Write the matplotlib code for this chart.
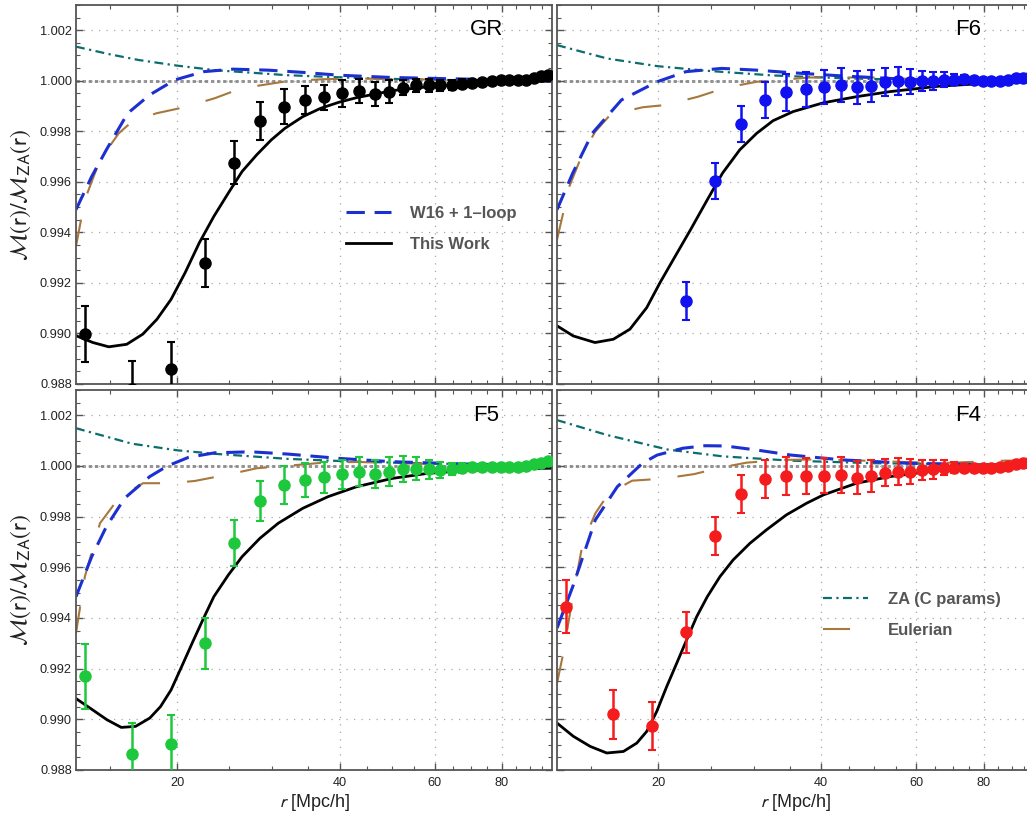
import matplotlib
matplotlib.use("Agg")
import matplotlib.pyplot as plt
import numpy as np
from matplotlib.ticker import FixedLocator, MultipleLocator, NullFormatter, FuncFormatter

plt.rcParams["font.family"] = ["Liberation Sans", "DejaVu Sans"]
plt.rcParams["mathtext.fontset"] = "stixsans"

# measured separations (same bins in every panel)
R_PTS = [13.5, 16.5, 19.5, 22.5, 25.5, 28.5, 31.5, 34.5, 37.5, 40.5, 43.5, 46.5, 49.5, 52.5,
         55.5, 58.5, 61.5, 64.5, 67.5, 70.5, 73.5, 76.5, 79.5, 82.5, 85.5, 88.5, 91.5, 94.5, 97.5]

GR_PTS = [0.98997, 0.98780, 0.98860, 0.99280, 0.99675, 0.99840, 0.99898, 0.99924, 0.99935, 0.99950,
          0.99960, 0.99948, 0.99957, 0.99973, 0.99982, 0.99982, 0.99983, 0.99985, 0.99988, 0.99992,
          0.99996, 1.00000, 1.00003, 1.00003, 1.00003, 1.00005, 1.00012, 1.00018, 1.00024]
GR_ERR = [0.00110, 0.00110, 0.00105, 0.00095, 0.00085, 0.00074, 0.00068, 0.00057, 0.00050, 0.00052,
          0.00047, 0.00048, 0.00046, 0.00030, 0.00025, 0.00025, 0.00022, 0.00020, 0.00018, 0.00015,
          0.00012, 0.00010, 0.00008, 0.00008, 0.00008, 0.00008, 0.00008, 0.00008, 0.00008]

F6_PTS = [np.nan, np.nan, np.nan, 0.99128, 0.99604, 0.99829, 0.99924, 0.99954, 0.99967, 0.99976,
          0.99983, 0.99974, 0.99979, 0.99995, 0.99999, 0.99996, 0.99999, 1.00000, 1.00005, 1.00005,
          1.00007, 1.00002, 1.00000, 1.00000, 0.99999, 1.00002, 1.00009, 1.00012, 1.00013]
F6_ERR = [0.0, 0.0, 0.0, 0.00075, 0.00071, 0.00072, 0.00072, 0.00074, 0.00069, 0.00068,
          0.00068, 0.00066, 0.00065, 0.00057, 0.00055, 0.00050, 0.00041, 0.00036, 0.00028, 0.00020,
          0.00015, 0.00012, 0.00010, 0.00008, 0.00008, 0.00008, 0.00008, 0.00008, 0.00008]

F5_PTS = [0.99169, 0.98864, 0.98903, 0.99300, 0.99695, 0.99863, 0.99925, 0.99945, 0.99955, 0.99968,
          0.99978, 0.99968, 0.99978, 0.99988, 0.99989, 0.99987, 0.99984, 0.99988, 0.99992, 0.99995,
          0.99995, 0.99995, 0.99995, 0.99995, 0.99997, 1.00000, 1.00007, 1.00013, 1.00018]
F5_ERR = [0.00130, 0.00120, 0.00115, 0.00100, 0.00090, 0.00079, 0.00074, 0.00066, 0.00062, 0.00057,
          0.00056, 0.00055, 0.00056, 0.00050, 0.00045, 0.00037, 0.00030, 0.00025, 0.00020, 0.00015,
          0.00012, 0.00010, 0.00008, 0.00008, 0.00008, 0.00008, 0.00008, 0.00008, 0.00008]

F4_PTS = [0.99445, 0.99020, 0.98972, 0.99344, 0.99724, 0.99889, 0.99950, 0.99961, 0.99961, 0.99961,
          0.99965, 0.99954, 0.99961, 0.99974, 0.99978, 0.99978, 0.99983, 0.99987, 0.99994, 0.99994,
          0.99994, 0.99991, 0.99991, 0.99994, 0.99995, 1.00000, 1.00008, 1.00013, 1.00016]
F4_ERR = [0.00105, 0.00096, 0.00095, 0.00081, 0.00074, 0.00074, 0.00075, 0.00074, 0.00070, 0.00069,
          0.00070, 0.00065, 0.00064, 0.00054, 0.00054, 0.00050, 0.00040, 0.00037, 0.00030, 0.00022,
          0.00015, 0.00012, 0.00010, 0.00008, 0.00008, 0.00008, 0.00008, 0.00008, 0.00008]

# "This Work" (black solid)
GR_THIS_R = [13.04, 13.97, 14.95, 16.14, 17.28, 18.36, 19.5, 20.7, 22.0, 23.4, 24.9, 26.4, 28.1, 29.9,
             31.7, 34.2, 36.9, 39.9, 43.0, 50.1, 58.3, 67.8, 79.0, 97.7, 99.0]
GR_THIS_Y = [0.98990, 0.98964, 0.98947, 0.98957, 0.98997, 0.99056, 0.99135, 0.99240, 0.99359, 0.99463,
             0.99556, 0.99641, 0.99707, 0.99766, 0.99812, 0.99858, 0.99891, 0.99915, 0.99933, 0.99961,
             0.99976, 0.99987, 0.99994, 0.99999, 1.00000]
F6_THIS_R = [13.0, 13.93, 15.28, 16.52, 17.73, 19.04, 20.15, 21.33, 22.95, 24.64, 26.3, 28.3, 30.4,
             32.6, 35.5, 40.4, 46.5, 53.6, 66.3, 96.1, 99.0]
F6_THIS_Y = [0.99030, 0.98990, 0.98964, 0.98977, 0.99017, 0.99102, 0.99201, 0.99293, 0.99411, 0.99529,
             0.99635, 0.99727, 0.99792, 0.99842, 0.99878, 0.99913, 0.99937, 0.99957, 0.99979, 0.99999,
             1.00000]
F5_THIS_R = [13.04, 13.96, 14.84, 15.77, 16.76, 17.81, 18.64, 19.5, 20.4, 21.4, 22.4, 23.4, 24.9, 26.4,
             28.5, 30.8, 34.2, 38.1, 43.0, 50.1, 58.3, 67.8, 79.0, 97.7, 99.0]
F5_THIS_Y = [0.99080, 0.99037, 0.98998, 0.98968, 0.98972, 0.99005, 0.99050, 0.99116, 0.99208, 0.99307,
             0.99399, 0.99484, 0.99570, 0.99642, 0.99715, 0.99774, 0.99833, 0.99879, 0.99918, 0.99951,
             0.99971, 0.99981, 0.99987, 0.99991, 0.99991]
F4_THIS_R = [13.0, 13.93, 14.97, 16.06, 17.24, 18.25, 19.04, 19.87, 20.73, 21.63, 22.57, 23.55, 24.64,
             26.0, 27.5, 29.55, 31.7, 34.5, 37.6, 40.4, 46.5, 53.6, 66.3, 96.1, 99.0]
F4_THIS_Y = [0.98985, 0.98933, 0.98893, 0.98867, 0.98873, 0.98906, 0.98952, 0.99031, 0.99129, 0.99221,
             0.99314, 0.99405, 0.99484, 0.99563, 0.99629, 0.99695, 0.99748, 0.99807, 0.99853, 0.99886,
             0.99932, 0.99958, 0.99984, 0.99995, 0.99995]

# "W16 + 1-loop" (blue dashed)
GR_W16_R = [13.0, 13.9, 14.8, 16.2, 17.8, 19.8, 22.4, 25.4, 29.5, 34.3, 39.9, 50.0, 67.5, 99.0]
GR_W16_Y = [0.99490, 0.99621, 0.99727, 0.99871, 0.99944, 1.00003, 1.00036, 1.00046, 1.00042, 1.00033,
            1.00022, 1.00013, 1.00007, 0.99999]
F6_W16_R = [13.0, 13.9, 15.1, 17.1, 19.9, 22.5, 26.2, 30.4, 35.2, 43.8, 57.5, 99.0]
F6_W16_Y = [0.99490, 0.99635, 0.99792, 0.99924, 0.99996, 1.00036, 1.00049, 1.00042, 1.00032, 1.00019,
            1.00006, 0.99999]
F5_W16_R = [13.0, 13.9, 14.8, 16.0, 17.8, 19.2, 21.0, 23.5, 27.4, 32.1, 39.9, 50.0, 67.5, 99.0]
F5_W16_Y = [0.99484, 0.99642, 0.99761, 0.99873, 0.99958, 1.00000, 1.00034, 1.00052, 1.00056, 1.00047,
            1.00030, 1.00017, 1.00008, 1.00000]
F4_W16_R = [13.0, 13.9, 15.3, 16.8, 18.7, 19.9, 22.2, 24.4, 26.6, 30.4, 35.2, 43.8, 57.5, 99.0]
F4_W16_Y = [0.99360, 0.99524, 0.99787, 0.99918, 1.00011, 1.00043, 1.00070, 1.00080, 1.00079, 1.00063,
            1.00043, 1.00024, 1.00011, 1.00001]

# "ZA (C params)" (teal dash-dot)
GR_ZA_R = [13.0, 15.0, 17.0, 20.0, 23.5, 32.0, 43.0, 58.0, 99.0]
GR_ZA_Y = [1.00135, 1.00105, 1.00082, 1.00060, 1.00042, 1.00022, 1.00011, 1.00004, 0.99998]
F6_ZA_R = [13.0, 16.1, 19.9, 24.4, 32.6, 43.8, 60.0, 99.0]
F6_ZA_Y = [1.00141, 1.00088, 1.00058, 1.00040, 1.00021, 1.00010, 1.00003, 0.99999]
F5_ZA_R = [13.0, 16.5, 20.0, 23.5, 32.1, 43.0, 58.0, 99.0]
F5_ZA_Y = [1.00149, 1.00088, 1.00062, 1.00048, 1.00028, 1.00017, 1.00010, 1.00003]
F4_ZA_R = [13.0, 16.1, 20.8, 26.3, 35.2, 49.9, 76.5, 99.0]
F4_ZA_Y = [1.00181, 1.00122, 1.00065, 1.00038, 1.00021, 1.00011, 1.00007, 1.00005]

# "Eulerian" (brown long dash)
GR_EUL_R = [13.0, 13.5, 14.4, 15.6, 16.5, 18.3, 20.6, 23.5, 26.3, 32.1, 37.3, 43.0, 58.0, 99.0]
GR_EUL_Y = [0.99345, 0.99529, 0.99687, 0.99792, 0.99838, 0.99871, 0.99895, 0.99931, 0.99970, 0.99999,
            1.00006, 1.00009, 1.00005, 0.99999]
F6_EUL_R = [13.0, 13.7, 14.5, 15.3, 16.3, 18.7, 20.6, 23.7, 26.6, 30.4, 38.2, 49.9, 66.0, 99.0]
F6_EUL_Y = [0.99372, 0.99582, 0.99713, 0.99799, 0.99865, 0.99895, 0.99904, 0.99937, 0.99972, 0.99996,
            1.00013, 1.00013, 1.00003, 1.00000]
F5_EUL_R = [13.0, 13.5, 14.4, 15.6, 17.3, 19.5, 21.6, 25.1, 28.1, 32.1, 37.3, 43.0, 58.0, 99.0]
F5_EUL_Y = [0.99340, 0.99563, 0.99774, 0.99873, 0.99932, 0.99932, 0.99941, 0.99968, 0.99991, 1.00001,
            1.00013, 1.00016, 1.00008, 1.00000]
F4_EUL_R = [13.0, 13.35, 13.9, 14.5, 15.3, 16.2, 17.9, 20.4, 23.3, 26.0, 29.1, 33.8, 40.2, 49.9, 66.0, 87.5, 99.0]
F4_EUL_Y = [0.99143, 0.99261, 0.99484, 0.99695, 0.99813, 0.99892, 0.99942, 0.99950, 0.99968, 0.99993,
            1.00013, 1.00024, 1.00026, 1.00020, 1.00011, 1.00021, 1.00022]

X_MAJOR = [20, 40, 60, 80]
X_MINOR = [15, 25, 30, 35, 45, 50, 55, 65, 70, 75, 85, 90, 95]

PANELS = [
    # name, rect, colour, points, errors, curves, left labels, bottom labels
    ("GR", [0.0740, 0.5283, 0.4635, 0.4656], "black", GR_PTS, GR_ERR,
     (GR_THIS_R, GR_THIS_Y, GR_W16_R, GR_W16_Y, GR_ZA_R, GR_ZA_Y, GR_EUL_R, GR_EUL_Y), True, False),
    ("F6", [0.5424, 0.5283, 0.4645, 0.4656], "#1010f0", F6_PTS, F6_ERR,
     (F6_THIS_R, F6_THIS_Y, F6_W16_R, F6_W16_Y, F6_ZA_R, F6_ZA_Y, F6_EUL_R, F6_EUL_Y), False, False),
    ("F5", [0.0740, 0.0541, 0.4635, 0.4668], "#1ec83c", F5_PTS, F5_ERR,
     (F5_THIS_R, F5_THIS_Y, F5_W16_R, F5_W16_Y, F5_ZA_R, F5_ZA_Y, F5_EUL_R, F5_EUL_Y), True, True),
    ("F4", [0.5424, 0.0541, 0.4645, 0.4668], "#f41c1c", F4_PTS, F4_ERR,
     (F4_THIS_R, F4_THIS_Y, F4_W16_R, F4_W16_Y, F4_ZA_R, F4_ZA_Y, F4_EUL_R, F4_EUL_Y), False, True),
]

FRAME = "#555555"
BLUE = "#1c2fd0"
TEAL = "#0a6e6e"
BROWN = "#a8773c"

fig = plt.figure(figsize=(10.27, 8.14), dpi=100)

for name, rect, col, pts, err, curves, lab_left, lab_bottom in PANELS:
    ax = fig.add_axes(rect)
    ax.set_xscale("log")
    ax.set_xlim(13, 99)
    ax.set_ylim(0.988, 1.003)

    ax.xaxis.set_major_locator(FixedLocator(X_MAJOR))
    ax.xaxis.set_minor_locator(FixedLocator(X_MINOR))
    ax.xaxis.set_major_formatter(FuncFormatter(lambda v, p: f"{v:g}"))
    ax.xaxis.set_minor_formatter(NullFormatter())
    ax.yaxis.set_major_locator(MultipleLocator(0.002))
    ax.yaxis.set_minor_locator(MultipleLocator(0.0005))
    ax.yaxis.set_major_formatter(FuncFormatter(lambda v, p: f"{v:.3f}"))

    ax.tick_params(which="both", direction="in", top=True, right=True, color=FRAME,
                   labelcolor="#222222", labelsize=9.2, labelleft=lab_left,
                   labelbottom=lab_bottom)
    ax.tick_params(which="major", length=5, width=1)
    ax.tick_params(which="minor", length=3, width=0.8)
    ax.tick_params(axis="y", pad=3)
    ax.tick_params(axis="x", pad=5)
    for s in ax.spines.values():
        s.set_color(FRAME)
        s.set_linewidth(1.3)

    ax.grid(which="major", color="#a8a8a8", lw=0.9, ls=(0, (1, 5)))
    ax.axhline(1.0, color="#8a8a8a", lw=2, ls=(0, (1.2, 1.0)), zorder=1.5)

    this_r, this_y, w16_r, w16_y, za_r, za_y, eul_r, eul_y = curves
    ax.plot(za_r, za_y, color=TEAL, lw=1.6, dashes=(4, 2, 1, 2), label="ZA (C params)", zorder=2)
    ax.plot(eul_r, eul_y, color=BROWN, lw=1.5, dashes=(13, 13), label="Eulerian", zorder=2)
    ax.plot(w16_r, w16_y, color=BLUE, lw=2.2, dashes=(6, 3.2), label="W16 + 1\u2013loop", zorder=2.1)
    ax.plot(this_r, this_y, color="black", lw=2, label="This Work", zorder=2.2)

    ax.errorbar(R_PTS, pts, yerr=err, fmt="o", color=col, ms=8, elinewidth=1.8,
                capsize=3, capthick=1.5, zorder=3)

    ax.text(0.862, 0.934, name, transform=ax.transAxes, ha="center", va="center",
            fontsize=16, color="black")

    if lab_left:
        ax.set_ylabel(r"$\mathcal{M}(\mathrm{r})/\mathcal{M}_{\mathrm{ZA}}(\mathrm{r})$",
                      fontsize=17, labelpad=5, color="#222222")
    if lab_bottom:
        ax.set_xlabel(r"$r$ [Mpc/h]", fontsize=13, labelpad=2, color="#222222")

    leg_font = {"weight": "bold", "size": 12, "family": "Liberation Sans"}
    if name == "GR":
        h, l = ax.get_legend_handles_labels()
        keep = [l.index("W16 + 1\u2013loop"), l.index("This Work")]
        leg = ax.legend([h[i] for i in keep], [l[i] for i in keep], loc="upper left",
                        bbox_to_anchor=(0.567, 0.47), frameon=False, borderpad=0,
                        borderaxespad=0, handlelength=2.7, handletextpad=1.15,
                        labelspacing=0.95, prop=leg_font)
        for t in leg.get_texts():
            t.set_color("#555555")
    if name == "F4":
        h, l = ax.get_legend_handles_labels()
        keep = [l.index("ZA (C params)"), l.index("Eulerian")]
        leg = ax.legend([h[i] for i in keep], [l[i] for i in keep], loc="upper left",
                        bbox_to_anchor=(0.558, 0.468), frameon=False, borderpad=0,
                        borderaxespad=0, handlelength=2.7, handletextpad=1.2,
                        labelspacing=0.95, prop=leg_font)
        for t in leg.get_texts():
            t.set_color("#555555")

fig.savefig("out.png", dpi=100)
